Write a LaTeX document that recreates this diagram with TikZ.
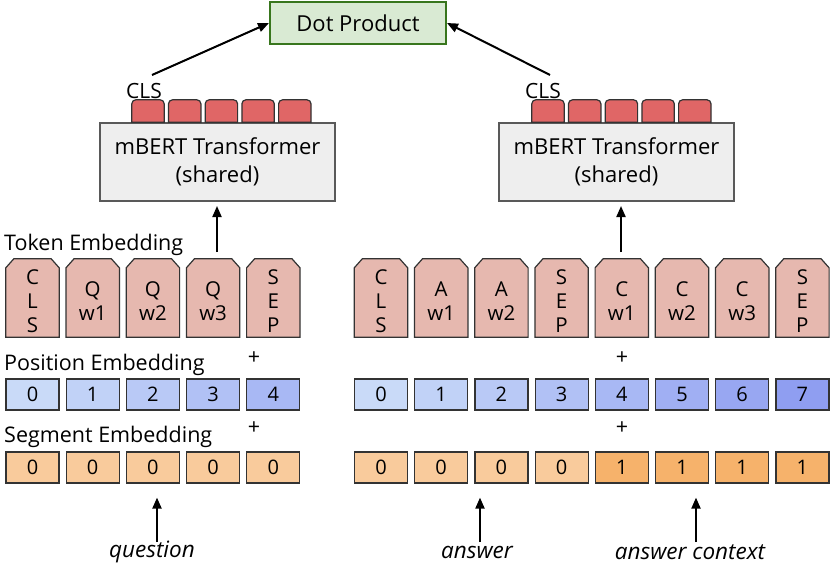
\documentclass[tikz,border=0pt]{standalone}
\usepackage{fontspec}
\setmainfont{Open Sans}
\usetikzlibrary{arrows.meta,calc}
\definecolor{dotfill}{HTML}{D9EAD3}
\definecolor{dotdraw}{HTML}{38761D}
\definecolor{bertfill}{HTML}{EEEEEE}
\definecolor{bertdraw}{HTML}{595959}
\definecolor{tokfill}{HTML}{E6B8AF}
\definecolor{smallfill}{HTML}{E06666}
\definecolor{edge}{HTML}{333333}
\definecolor{posA}{HTML}{C9DAF8}
\definecolor{posB}{HTML}{8F9EF1}
\definecolor{segA}{HTML}{F9CB9C}
\definecolor{segB}{HTML}{F6B26B}
\tikzset{
  lbl/.style={font=\fontsize{21.5}{26}\selectfont, inner sep=0pt},
  dotbox/.style={draw=dotdraw, fill=dotfill, line width=2pt, minimum width=176pt, minimum height=42pt, font=\fontsize{22}{26}\selectfont},
  bertbox/.style={draw=bertdraw, fill=bertfill, line width=2pt, minimum width=235pt, minimum height=78pt, align=center, font=\fontsize{22}{28}\selectfont},
  toknode/.style={minimum width=53pt, minimum height=78pt, inner sep=0pt},
  tokshape/.style={draw=edge, fill=tokfill, line width=1.2pt},
  toktext/.style={inner sep=0pt, align=center, font=\fontsize{20.5}{24}\selectfont},
  smallnode/.style={minimum width=32pt, minimum height=22pt, inner sep=0pt},
  smalltok/.style={draw=edge, fill=smallfill, line width=1.2pt},
  embbox/.style={draw=edge, line width=1.2pt, minimum width=53pt, minimum height=31pt, inner sep=0pt, font=\fontsize{20}{22}\selectfont},
  arr/.style={line width=2pt, -{Triangle[length=11pt,width=9pt]}},
  itl/.style={inner sep=0pt, font=\itshape\fontsize{22.5}{26}\selectfont},
}
\newcommand{\tokpath}[1]{%
  \draw[tokshape] (#1.south west) -- ($(#1.north west)+(0,9)$) -- ($(#1.north west)+(8,0)$)
    -- ($(#1.north east)+(-8,0)$) -- ($(#1.north east)+(0,9)$) -- (#1.south east) -- cycle;}
\begin{document}
\begin{tikzpicture}[x=1pt,y=-1pt]
\useasboundingbox (0,0) rectangle (830,567);
% top
\node[dotbox] (dot) at (358,23) {Dot Product};
\node[bertbox] (bertL) at (217.5,162) {mBERT Transformer\\(shared)};
\node[bertbox] (bertR) at (616.5,162) {mBERT Transformer\\(shared)};
% small output tokens
\foreach \i in {0,...,4}{
  \node[smallnode] (sl\i) at ({148+36.7*\i},111) {};
  \draw[smalltok] (sl\i.south west) [rounded corners=4pt] -- (sl\i.north west) -- (sl\i.north east) [sharp corners] -- (sl\i.south east) -- cycle;
  \node[smallnode] (sr\i) at ({548+36.7*\i},111) {};
  \draw[smalltok] (sr\i.south west) [rounded corners=4pt] -- (sr\i.north west) -- (sr\i.north east) [sharp corners] -- (sr\i.south east) -- cycle;
}
\node[lbl, font=\fontsize{21}{24}\selectfont] (clsL) at (144,91) {CLS};
\node[lbl, font=\fontsize{21}{24}\selectfont] (clsR) at (543,91) {CLS};
\coordinate (cL) at (152,75);
\coordinate (cR) at (550,75);
\draw[arr] (cL) -- (dot.west);
\draw[arr] (cR) -- (dot.east);
% labels
\node[lbl, anchor=west] (tokLbl) at (4,245) {Token Embedding};
\node[lbl, anchor=west] (posLbl) at (4,365) {Position Embedding};
\node[lbl, anchor=west] (segLbl) at (4,437) {Segment Embedding};
% left tokens
\foreach \t [count=\i from 0] in {C\\L\\S, Q\\w1, Q\\w2, Q\\w3, S\\E\\P}{
  \node[toknode] (tl\i) at ({32.5+60.2*\i},298) {};
  \tokpath{tl\i}
  \node[toktext] (tlt\i) at ($(tl\i.center)+(0,3)$) {\t};
}
% right tokens
\foreach \t [count=\i from 0] in {C\\L\\S, A\\w1, A\\w2, S\\E\\P, C\\w1, C\\w2, C\\w3, S\\E\\P}{
  \node[toknode] (tr\i) at ({381+60.2*\i},298) {};
  \tokpath{tr\i}
  \node[toktext] (trt\i) at ($(tr\i.center)+(0,3)$) {\t};
}
% position embeddings
\foreach \i in {0,...,4}{
  \pgfmathtruncatemacro{\pct}{\i*100/7}
  \node[embbox, fill=posB!\pct!posA] (pl\i) at ({32.5+60.2*\i},394.5) {\i};
}
\foreach \i in {0,...,7}{
  \pgfmathtruncatemacro{\pct}{\i*100/7}
  \node[embbox, fill=posB!\pct!posA] (pr\i) at ({381+60.2*\i},394.5) {\i};
}
% segment embeddings
\foreach \i in {0,...,4}{
  \node[embbox, fill=segA] (gl\i) at ({32.5+60.2*\i},467.5) {0};
}
\foreach \i in {0,...,3}{
  \node[embbox, fill=segA] (gr\i) at ({381+60.2*\i},467.5) {0};
}
\foreach \i in {4,...,7}{
  \node[embbox, fill=segB] (gr\i) at ({381+60.2*\i},467.5) {1};
}
% plus signs
\node[lbl] (plL1) at (254,358) {+};
\node[lbl] (plL2) at (254,428) {+};
\node[lbl] (plR1) at (622,358) {+};
\node[lbl] (plR2) at (622,428) {+};
% arrows into transformers
\coordinate (uL) at (217,252);
\coordinate (uR) at (621,252);
\draw[arr, shorten >=4pt] (uL) -- (uL |- bertL.south);
\draw[arr, shorten >=4pt] (uR) -- (uR |- bertR.south);
% bottom inputs
\node[itl] (q) at (152,552) {question};
\node[itl] (a) at (477,552) {answer};
\node[itl] (ac) at (690,552) {answer context};
\coordinate (bq) at (157,542);
\coordinate (ba) at (480,542);
\coordinate (bc) at (696,542);
\draw[arr, shorten >=14pt] (bq) -- (bq |- gl2.south);
\draw[arr, shorten >=14pt] (ba) -- (ba |- gr2.south);
\draw[arr, shorten >=14pt] (bc) -- (bc |- gr5.south);
\end{tikzpicture}
\end{document}
